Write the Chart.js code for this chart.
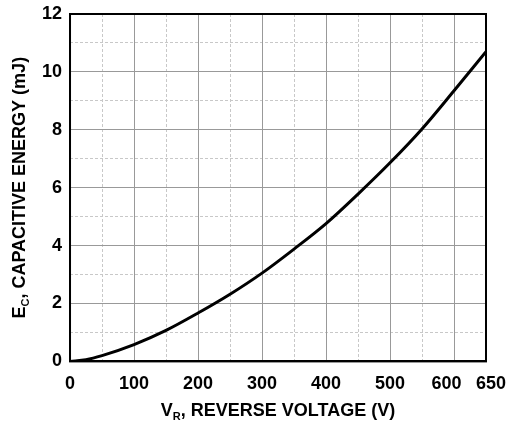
<!DOCTYPE html>
<html>
<head>
  <title>Capacitive Energy vs Reverse Voltage</title>
  <script src="https://cdn.jsdelivr.net/npm/chart.js"></script>
  <style>
    body { margin: 0; background: #fff; }
    #wrap { width: 510px; height: 429px; }
  </style>
</head>
<body>
  <div id="wrap"><canvas id="energyChart" width="510" height="429"></canvas></div>

  <script>
    // values
    const voltage = [0, 25, 50, 100, 150, 200, 250, 300, 350, 400, 450, 500, 550, 600, 650];
    const energy = [0, 0.06, 0.2, 0.58, 1.07, 1.67, 2.32, 3.05, 3.88, 4.76, 5.78, 6.86, 8.03, 9.35, 10.7];

    const xTicks = [0, 100, 200, 300, 400, 500, 600, 650];
    const yTicks = [0, 2, 4, 6, 8, 10, 12];

    const FONT = "'Liberation Sans', Arial, Helvetica, sans-serif";
    const tickFont = { family: FONT, size: 18, weight: 'bold' };

    // draws the frame and the two axis titles (they need subscripts)
    const titlesPlugin = {
      id: 'titles',
      afterDraw(chart) {
        const c = chart.ctx;
        const a = chart.chartArea;
        c.save();
        c.strokeStyle = '#000';
        c.lineWidth = 2;
        c.strokeRect(a.left, a.top, a.right - a.left, a.bottom - a.top);

        function subTitle(main, sub, rest, cx, cy, rotate) {
          c.save();
          c.translate(cx, cy);
          if (rotate) c.rotate(-Math.PI / 2);
          c.fillStyle = '#000';
          c.textBaseline = 'alphabetic';
          c.font = 'bold 18px ' + FONT;
          const w1 = c.measureText(main).width;
          const w3 = c.measureText(rest).width;
          c.font = 'bold 11px ' + FONT;
          const w2 = c.measureText(sub).width;
          let x = -(w1 + w2 + w3) / 2;
          c.font = 'bold 18px ' + FONT;
          c.fillText(main, x, 6);
          x += w1;
          c.font = 'bold 11px ' + FONT;
          c.fillText(sub, x, 10);
          x += w2;
          c.font = 'bold 18px ' + FONT;
          c.fillText(rest, x, 6);
          c.restore();
        }
        subTitle('V', 'R', ', REVERSE VOLTAGE (V)', (a.left + a.right) / 2, 410, false);
        subTitle('E', 'C', ', CAPACITIVE ENERGY (mJ)', 19, (a.top + a.bottom) / 2, true);
        c.restore();
      }
    };

    // let the layout padding alone decide where the plot area sits
    const noOverflow = s => { s.paddingTop = 0; s.paddingBottom = 0; s.paddingLeft = 0; s.paddingRight = 0; };

    const ctx = document.getElementById('energyChart').getContext('2d');
    new Chart(ctx, {
      type: 'line',
      data: {
        datasets: [{
          data: voltage.map((v, i) => ({ x: v, y: energy[i] })),
          borderColor: '#000',
          borderWidth: 3,
          pointRadius: 0,
          cubicInterpolationMode: 'monotone',
          fill: false
        }]
      },
      options: {
        responsive: false,
        animation: false,
        layout: { autoPadding: false, padding: { left: 34, top: 14, right: 24, bottom: 22 } },
        plugins: { legend: { display: false }, tooltip: { enabled: false } },
        scales: {
          xMinor: {
            type: 'linear', position: 'bottom', min: 0, max: 650,
            afterFit: noOverflow,
            ticks: { display: false, stepSize: 50 },
            grid: {
              drawTicks: false,
              color: c => (c.tick && c.tick.value % 100 !== 0 && c.tick.value < 600) ? '#c8c8c8' : 'rgba(0,0,0,0)'
            },
            border: { display: false, dash: [3, 2] }
          },
          yMinor: {
            type: 'linear', position: 'left', min: 0, max: 12,
            afterFit: noOverflow,
            ticks: { display: false, stepSize: 1 },
            grid: {
              drawTicks: false,
              color: c => (c.tick && c.tick.value % 2 !== 0) ? '#c8c8c8' : 'rgba(0,0,0,0)'
            },
            border: { display: false, dash: [3, 2] }
          },
          x: {
            type: 'linear', position: 'bottom', min: 0, max: 650,
            afterBuildTicks: s => { s.ticks = xTicks.map(v => ({ value: v })); },
            afterFit: noOverflow,
            ticks: {
              color: '#000', font: tickFont, padding: 12, maxRotation: 0, autoSkip: false,
              // nudge the two crowded end labels apart
              callback: v => v === 600 ? '600   ' : v === 650 ? '  650' : String(v)
            },
            grid: { drawTicks: false, color: '#999', lineWidth: 1 },
            border: { color: '#000', width: 2 }
          },
          y: {
            type: 'linear', position: 'left', min: 0, max: 12,
            afterBuildTicks: s => { s.ticks = yTicks.map(v => ({ value: v })); },
            afterFit: noOverflow,
            ticks: { color: '#000', font: tickFont, padding: 8 },
            grid: { drawTicks: false, color: '#999', lineWidth: 1 },
            border: { color: '#000', width: 2 }
          }
        }
      },
      plugins: [titlesPlugin]
    });
  </script>
</body>
</html>
